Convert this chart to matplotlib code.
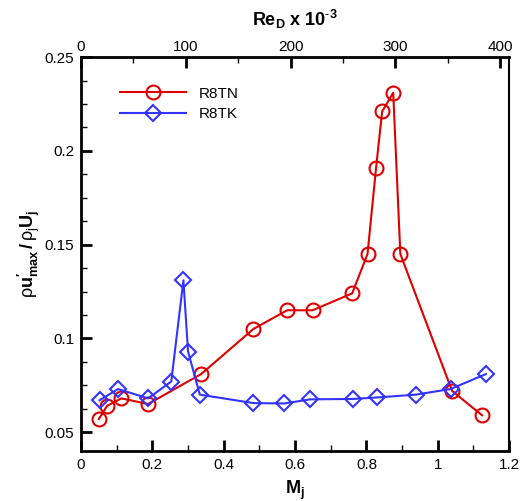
import matplotlib
matplotlib.use("Agg")
import matplotlib.pyplot as plt
from matplotlib.ticker import MultipleLocator

plt.rcParams['font.family'] = ['Liberation Sans', 'DejaVu Sans']
plt.rcParams['mathtext.fontset'] = 'custom'
plt.rcParams['mathtext.rm'] = 'Liberation Sans'
plt.rcParams['mathtext.it'] = 'Liberation Sans'
plt.rcParams['mathtext.bf'] = 'Liberation Sans:bold'

r8tn_m = [0.05, 0.073, 0.113, 0.188, 0.337, 0.483, 0.578, 0.649, 0.760, 0.803,
          0.827, 0.844, 0.875, 0.895, 1.040, 1.124]
r8tn_v = [0.057, 0.064, 0.068, 0.065, 0.081, 0.105, 0.115, 0.115, 0.124, 0.145,
          0.191, 0.221, 0.231, 0.145, 0.072, 0.059]
r8tk_m = [0.052, 0.104, 0.188, 0.253, 0.287, 0.300, 0.333, 0.483, 0.570, 0.643,
          0.762, 0.830, 0.938, 1.036, 1.135]
r8tk_v = [0.067, 0.073, 0.068, 0.077, 0.131, 0.093, 0.070, 0.0655, 0.0653, 0.0675,
          0.0677, 0.0685, 0.070, 0.073, 0.081]

fig = plt.figure(figsize=(5.26, 5.01), dpi=100)
ax = fig.add_axes([0.154, 0.1, 0.814, 0.786])

red = '#dd0000'
blue = '#3333ff'
ax.plot(r8tn_m, r8tn_v, color=red, lw=1.5, marker='o', ms=10, mfc='none',
        mec=red, mew=1.5, label='R8TN')
ax.plot(r8tk_m, r8tk_v, color=blue, lw=1.5, marker='D', ms=8, mfc='none',
        mec=blue, mew=1.5, label='R8TK')

ax.set_xlim(0, 1.2)
ax.set_ylim(0.04, 0.25)
ax.xaxis.set_major_locator(MultipleLocator(0.2))
ax.xaxis.set_minor_locator(MultipleLocator(0.1))
ax.yaxis.set_major_locator(MultipleLocator(0.05))
ax.yaxis.set_minor_locator(MultipleLocator(0.0125))
ax.set_xticks([0, 0.2, 0.4, 0.6, 0.8, 1.0, 1.2])
ax.set_xticklabels(['0', '0.2', '0.4', '0.6', '0.8', '1', '1.2'])
ax.set_yticks([0.05, 0.1, 0.15, 0.2, 0.25])
ax.set_yticklabels(['0.05', '0.1', '0.15', '0.2', '0.25'])
ax.tick_params(which='major', direction='in', length=8, width=2, labelsize=11,
               top=False, right=False, pad=5)
ax.tick_params(which='minor', direction='in', length=4, width=1, top=False, right=False)
for s in ['left', 'bottom', 'top']:
    ax.spines[s].set_linewidth(2)
ax.spines['right'].set_linewidth(1.5)

ax.set_xlabel(r'$\mathbf{M_j}$', fontsize=13, labelpad=5)
ax.set_ylabel(r"$\rho\mathbf{u}^{\mathbf{\prime}}_{\mathbf{max}}\,\mathbf{/}\,\rho_j\mathbf{U_j}$",
              fontsize=13, labelpad=2)

ax2 = ax.twiny()
ax2.set_xlim(0, 408.6)
ax2.xaxis.set_major_locator(MultipleLocator(100))
ax2.xaxis.set_minor_locator(MultipleLocator(50))
ax2.tick_params(which='major', direction='in', length=8, width=2, labelsize=11, pad=2)
ax2.tick_params(which='minor', direction='in', length=4, width=1)
ax2.set_xlabel(r'$\mathbf{Re_D}$ x 10$^{\mathbf{\text{-}3}}$', fontsize=13,
               fontweight='bold', labelpad=10)
for s in ax2.spines.values():
    s.set_visible(False)

leg = ax.legend(loc='upper left', bbox_to_anchor=(0.06, 0.96), frameon=False,
                fontsize=11, handlelength=4.3, labelspacing=0.45, handletextpad=0.8)

fig.savefig('out.png', dpi=100)
